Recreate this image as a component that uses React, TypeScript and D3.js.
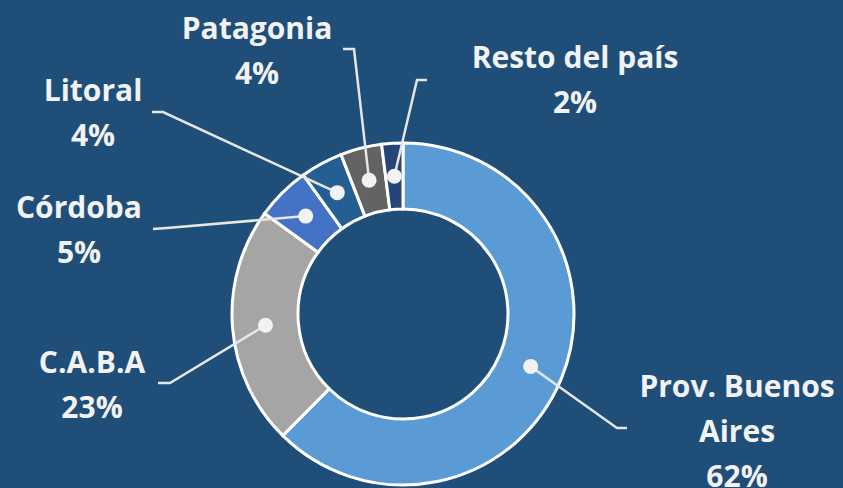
import React from "react";
import * as d3 from "d3";

// regional share of total
const categories = ["Prov. Buenos\nAires", "C.A.B.A", "Córdoba", "Litoral", "Patagonia", "Resto del país"];
const values = [62.4, 22.6, 5.1, 4.0, 3.9, 2.0];
const colors = ["#5B9BD5", "#A5A5A5", "#4472C4", "#255E91", "#636363", "#264478"];

// label layout: text centre x, first baseline y, leader elbow and end
const labelPos = [
  { x: 737, y: 397, elbow: [617, 428], end: [627, 428] },
  { x: 92, y: 373, elbow: [170, 383], end: [158, 383] },
  { x: 79, y: 218, elbow: [167, 228], end: [153, 229] },
  { x: 93, y: 101, elbow: [163, 112], end: [152, 112] },
  { x: 257, y: 39, elbow: [354, 49], end: [343, 49] },
  { x: 575, y: 68, elbow: [417, 80], end: [427, 80] },
];

export default function App() {
  const width = 843,
    height = 488;
  const cx = 403,
    cy = 314;
  const outer = 171,
    inner = 105;

  const total = d3.sum(values);
  const pie = d3.pie<number>().sort(null).value((d) => d);
  const arcs = pie(values);
  const arc = d3.arc<d3.PieArcDatum<number>>().innerRadius(inner).outerRadius(outer);

  const textColor = "#F2F2F2";
  const lineHeight = 45;

  return (
    <div style={{ position: "fixed", left: 0, top: 0 }}>
      <svg width={width} height={height} style={{ display: "block" }}>
        <rect width={width} height={height} fill="#1F4E79" />
        <g transform={"translate(" + cx + "," + cy + ")"}>
          {arcs.map((a, i) => (
            <path key={i} d={arc(a) || ""} fill={colors[i]} stroke="#FFFFFF" strokeWidth={3} strokeLinejoin="miter" />
          ))}
        </g>
        {arcs.map((a, i) => {
          const c = arc.centroid(a);
          const p = labelPos[i];
          const dx = cx + c[0],
            dy = cy + c[1];
          return (
            <g key={"l" + i}>
              <polyline
                points={dx + "," + dy + " " + p.elbow.join(",") + " " + p.end.join(",")}
                fill="none"
                stroke="#E6E6E6"
                strokeWidth={2.5}
              />
              <circle cx={dx} cy={dy} r={7.5} fill="#F2F2F2" />
            </g>
          );
        })}
        {categories.map((name, i) => {
          const p = labelPos[i];
          const lines = name.split("\n").concat([Math.round((values[i] / total) * 100) + "%"]);
          return (
            <text
              key={"t" + i}
              x={p.x}
              y={p.y}
              textAnchor="middle"
              fill={textColor}
              style={{ fontFamily: "'Open Sans', sans-serif", fontWeight: 700, fontSize: 30 }}
            >
              {lines.map((s, j) => (
                <tspan key={j} x={p.x} y={p.y + j * lineHeight}>
                  {s}
                </tspan>
              ))}
            </text>
          );
        })}
      </svg>
    </div>
  );
}
